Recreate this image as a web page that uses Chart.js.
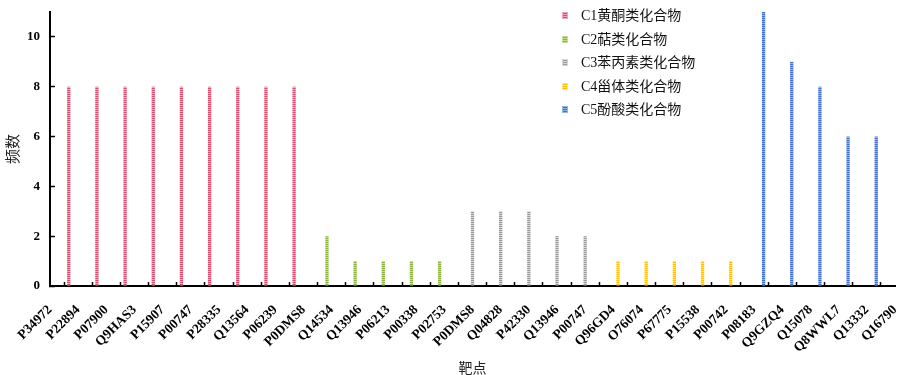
<!DOCTYPE html>
<html>
<head>
<meta charset="utf-8">
<script src="https://cdn.jsdelivr.net/npm/chart.js@4/dist/chart.umd.min.js"></script>
<style>
  html, body { margin: 0; padding: 0; background: #ffffff; }
  #wrap { position: relative; width: 900px; height: 375px; }
  #legend { position: absolute; left: 562px; top: 4px; font-family: 'Liberation Serif', 'Noto Sans CJK SC', serif; font-size: 14px; color: #111; }
  .item { height: 23.5px; line-height: 17px; display: flex; align-items: center; white-space: nowrap; }
  .box { width: 6px; height: 7px; margin-right: 13px; box-sizing: border-box; }
</style>
</head>
<body>
<div id="wrap">
  <canvas id="c" width="900" height="375"></canvas>
  <div id="legend"></div>
</div>
<script>
const targets = ['P34972','P22894','P07900','Q9HAS3','P15907','P00747','P28335','Q13564','P06239','P0DMS8',
  'Q14534','Q13946','P06213','P00338','P02753',
  'P0DMS8','Q04828','P42330','Q13946','P00747',
  'Q96GD4','O76074','P67775','P15538','P00742',
  'P08183','Q9GZQ4','Q15078','Q8WWL7','Q13332','Q16790'];

const seriesNames = ['C1黄酮类化合物','C2萜类化合物','C3苯丙素类化合物','C4甾体类化合物','C5酚酸类化合物'];

const c1 = [null,8,8,8,8,8,8,8,8,8, null,null,null,null,null, null,null,null,null,null, null,null,null,null,null, null,null,null,null,null,null];
const c2 = [null,null,null,null,null,null,null,null,null,null, 2,1,1,1,1, null,null,null,null,null, null,null,null,null,null, null,null,null,null,null,null];
const c3 = [null,null,null,null,null,null,null,null,null,null, null,null,null,null,null, 3,3,3,2,2, null,null,null,null,null, null,null,null,null,null,null];
const c4 = [null,null,null,null,null,null,null,null,null,null, null,null,null,null,null, null,null,null,null,null, 1,1,1,1,1, null,null,null,null,null,null];
const c5 = [null,null,null,null,null,null,null,null,null,null, null,null,null,null,null, null,null,null,null,null, null,null,null,null,null, 11,9,8,6,6,null];

const yTicks = [0, 2, 4, 6, 8, 10];

const colors = [
  ['#d64a6e', '#f2a5b8'],
  ['#8cb33c', '#c6dd96'],
  ['#999999', '#d6d6d6'],
  ['#ffc000', '#ffe27e'],
  ['#3f6ec6', '#93b2e8']
];

function stripe(main, light) {
  const p = document.createElement('canvas');
  p.width = 4; p.height = 2;
  const g = p.getContext('2d');
  g.fillStyle = main; g.fillRect(0, 0, 4, 1);
  g.fillStyle = light; g.fillRect(0, 1, 4, 1);
  return document.getElementById('c').getContext('2d').createPattern(p, 'repeat');
}

const seriesData = [c1, c2, c3, c4, c5];
const datasets = seriesData.map((d, i) => ({
  label: seriesNames[i],
  data: d,
  backgroundColor: stripe(colors[i][0], colors[i][1]),
  borderWidth: 0,
  categoryPercentage: 0.835,
  barPercentage: 0.7
}));

const FONT = "'Liberation Serif', 'Noto Sans CJK SC', serif";
Chart.defaults.font.family = FONT;
Chart.defaults.color = '#000';

function zeroPad(s) { s.paddingTop = 0; s.paddingBottom = 0; s.paddingLeft = 0; s.paddingRight = 0; }

new Chart(document.getElementById('c'), {
  type: 'bar',
  data: { labels: targets, datasets },
  options: {
    responsive: false,
    animation: false,
    layout: { padding: { top: 12, right: 5, bottom: 0, left: 0 } },
    plugins: { legend: { display: false }, tooltip: { enabled: false } },
    scales: {
      x: {
        offset: false,
        grid: { display: true, offset: true, drawOnChartArea: false, tickLength: -4, tickWidth: 1.5, tickColor: '#000' },
        border: { display: true, color: '#000', width: 2 },
        ticks: { autoSkip: false, maxRotation: 45, minRotation: 45, padding: 20, font: { size: 13.5, weight: 'bold' }, color: '#000' },
        title: { display: true, text: '靶点', font: { size: 14 }, color: '#222', padding: { top: 0, bottom: -3 } },
        afterFit: (s) => { s.height = 89; zeroPad(s); }
      },
      y: {
        min: 0, max: 11,
        grid: { display: true, drawOnChartArea: false, tickLength: -5, tickWidth: 1.5, tickColor: '#000' },
        border: { display: true, color: '#000', width: 2 },
        afterBuildTicks: (s) => { s.ticks = yTicks.map(v => ({ value: v })); },
        ticks: { padding: 15, font: { size: 13, weight: 'bold' }, color: '#000' },
        title: { display: true, text: '频数', font: { size: 15 }, color: '#222', padding: { top: 5, bottom: 0 } },
        afterFit: (s) => { s.width = 50; zeroPad(s); }
      }
    }
  }
});

const leg = document.getElementById('legend');
seriesNames.forEach((name, i) => {
  const row = document.createElement('div');
  row.className = 'item';
  const b = document.createElement('span');
  b.className = 'box';
  b.style.background = 'repeating-linear-gradient(to bottom,' + colors[i][0] + ' 0 1px,' + colors[i][1] + ' 1px 2px)';
  b.style.border = '1px solid ' + colors[i][1];
  const t = document.createElement('span');
  t.textContent = name;
  row.appendChild(b); row.appendChild(t);
  leg.appendChild(row);
});
</script>
</body>
</html>
